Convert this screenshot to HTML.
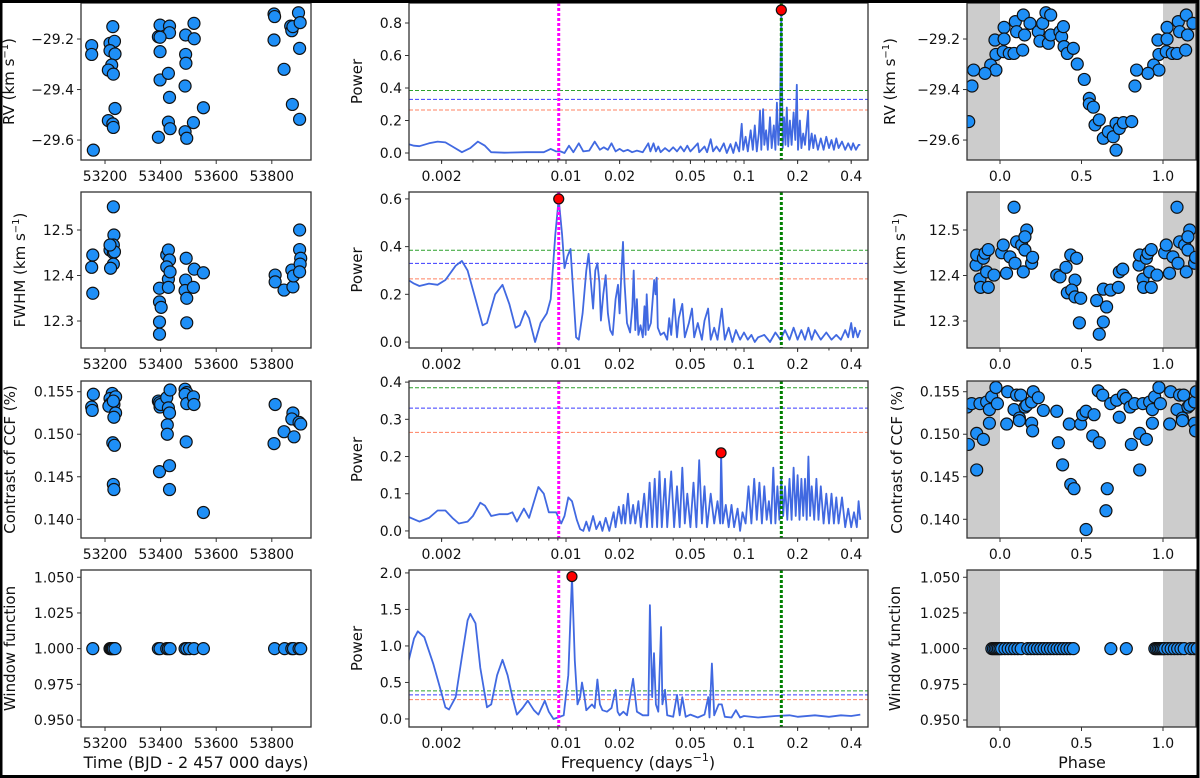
<!DOCTYPE html>
<html><head><meta charset="utf-8">
<style>
html,body{margin:0;padding:0;background:#fff;}
svg{display:block;font-family:"DejaVu Sans","Liberation Sans",sans-serif;}
</style></head>
<body>
<svg id="chart" width="1200" height="778" viewBox="0 0 1200 778" xmlns="http://www.w3.org/2000/svg"></svg>
<script>
// ---------- DATA ----------
const rvTime=[53152,53152,53158,53228,53218,53234,53218,53236,53224,53212,53230,53236,53212,53228,53230,53398,53432,53432,53392,53398,53398,53398,53428,53432,53428,53434,53392,53490,53520,53521,53490,53491,53488,53488,53494,53518,53554,53808,53810,53808,53844,53868,53872,53876,53874,53896,53902,53900,53900];
const rvVal=[-29.226,-29.261,-29.64,-29.151,-29.217,-29.209,-29.246,-29.259,-29.303,-29.323,-29.339,-29.475,-29.523,-29.536,-29.55,-29.145,-29.149,-29.175,-29.191,-29.193,-29.25,-29.362,-29.336,-29.431,-29.529,-29.555,-29.589,-29.184,-29.138,-29.199,-29.261,-29.296,-29.386,-29.567,-29.593,-29.531,-29.472,-29.101,-29.111,-29.204,-29.32,-29.149,-29.167,-29.151,-29.459,-29.096,-29.135,-29.237,-29.518];
const rvPhase=[0.969,0.975,0.943,0.975,0.908,0.025,0.025,0.02,0.057,0.086,0.094,0.102,0.139,0.143,0.151,0.184,0.235,0.245,0.262,0.282,0.297,0.311,0.311,0.368,0.378,0.389,0.393,0.413,0.45,0.474,0.517,0.548,0.548,0.573,0.583,0.609,0.634,0.665,0.695,0.712,0.712,0.732,0.757,0.808,0.828,0.838];
const rvPhaseVal=[-29.204,-29.261,-29.303,-29.323,-29.336,-29.154,-29.2,-29.25,-29.257,-29.257,-29.131,-29.171,-29.244,-29.105,-29.184,-29.138,-29.171,-29.208,-29.138,-29.096,-29.217,-29.184,-29.105,-29.171,-29.191,-29.151,-29.23,-29.257,-29.237,-29.299,-29.36,-29.435,-29.457,-29.47,-29.54,-29.52,-29.593,-29.567,-29.587,-29.534,-29.64,-29.554,-29.531,-29.527,-29.386,-29.323];

const fwTime=[53156,53152,53156,53230,53232,53230,53218,53230,53234,53218,53230,53220,53396,53396,53402,53396,53396,53422,53428,53432,53422,53428,53428,53434,53492,53490,53488,53494,53494,53518,53521,53554,53812,53812,53844,53872,53876,53878,53900,53900,53904,53902,53900];
const fwVal=[12.445,12.418,12.361,12.551,12.489,12.467,12.456,12.45,12.452,12.467,12.425,12.416,12.372,12.342,12.33,12.298,12.271,12.445,12.456,12.434,12.419,12.392,12.374,12.408,12.438,12.39,12.367,12.35,12.296,12.374,12.414,12.406,12.401,12.386,12.368,12.412,12.375,12.399,12.5,12.457,12.438,12.425,12.408];
const fwPhase=[0.086,0.01,0.02,0.04,0.061,0.092,0.102,0.133,0.153,0.143,0.164,0.153,0.194,0.2,0.348,0.368,0.405,0.413,0.434,0.46,0.47,0.44,0.46,0.495,0.487,0.593,0.609,0.634,0.634,0.654,0.679,0.726,0.732,0.753,0.853,0.857,0.877,0.881,0.898,0.908,0.928,0.918,0.928,0.963];
const fwPhaseVal=[12.55,12.45,12.467,12.405,12.441,12.427,12.474,12.467,12.456,12.408,12.5,12.485,12.427,12.44,12.401,12.397,12.418,12.362,12.445,12.39,12.438,12.368,12.353,12.35,12.296,12.345,12.271,12.298,12.37,12.331,12.368,12.374,12.408,12.414,12.423,12.445,12.392,12.374,12.438,12.449,12.457,12.408,12.374,12.401];

const ctTime=[53158,53152,53154,53226,53218,53238,53220,53232,53214,53230,53238,53232,53228,53234,53230,53232,53392,53398,53396,53400,53422,53428,53434,53432,53424,53424,53396,53432,53432,53488,53494,53488,53494,53518,53520,53492,53554,53812,53808,53844,53876,53872,53880,53898,53904];
const ctVal=[0.1547,0.1532,0.1528,0.1548,0.1542,0.1544,0.1536,0.1535,0.1533,0.1539,0.1525,0.152,0.149,0.1487,0.1441,0.1435,0.1539,0.1532,0.1537,0.1535,0.1543,0.1531,0.1552,0.1525,0.1511,0.15,0.1456,0.1463,0.1435,0.1553,0.1549,0.1547,0.1536,0.1544,0.1535,0.1491,0.1408,0.1535,0.1489,0.1503,0.1525,0.1518,0.1497,0.1514,0.1512];
const ctPhase=[0.047,0.041,0.086,0.102,0.127,0.119,0.119,0.153,0.164,0.194,0.204,0.194,0.2,0.235,0.266,0.348,0.358,0.384,0.425,0.434,0.454,0.495,0.507,0.528,0.528,0.577,0.569,0.609,0.603,0.63,0.658,0.65,0.679,0.716,0.732,0.757,0.773,0.798,0.806,0.826,0.857,0.857,0.877,0.898,0.918,0.935,0.935,0.949,0.975,0.984];
const ctPhaseVal=[0.155,0.1512,0.1529,0.1546,0.1546,0.1519,0.1516,0.1532,0.1534,0.1538,0.155,0.1513,0.1504,0.1543,0.1528,0.1527,0.149,0.1464,0.1512,0.1441,0.1436,0.1512,0.1523,0.1527,0.1388,0.1523,0.1498,0.149,0.1551,0.1546,0.1436,0.141,0.1536,0.154,0.152,0.1546,0.1542,0.1532,0.1488,0.1536,0.1501,0.1458,0.1536,0.1494,0.1538,0.1529,0.1513,0.1544,0.1555,0.1536];

const wfTime=[53156,53218,53222,53226,53230,53236,53392,53398,53422,53428,53434,53488,53494,53504,53520,53554,53810,53846,53872,53878,53898,53904];
const wfVal=[1,1,1,1,1,1,1,1,1,1,1,1,1,1,1,1,1,1,1,1,1,1];
const wfPhase=[0.95,0.96,0.97,0.98,0.99,0.0,0.01,0.03,0.05,0.07,0.09,0.11,0.13,0.17,0.19,0.21,0.23,0.25,0.27,0.29,0.31,0.33,0.35,0.37,0.39,0.41,0.43,0.45,0.68,0.775];
const wfPhaseVal=wfPhase.map(()=>1);

const p1Freq=[0.0013,0.0014,0.0015,0.0017,0.0019,0.0021,0.0023,0.0026,0.0029,0.0032,0.0035,0.0038,0.0045,0.006,0.0075,0.0082,0.0088,0.0093,0.0098,0.0104,0.011,0.0118,0.0125,0.0135,0.0145,0.0155,0.0163,0.0172,0.018,0.019,0.02,0.021,0.0222,0.0235,0.025,0.027,0.029,0.0298,0.031,0.032,0.033,0.034,0.036,0.038,0.04,0.042,0.044,0.046,0.048,0.05,0.052,0.055,0.056,0.06,0.062,0.065,0.067,0.07,0.073,0.077,0.08,0.084,0.087,0.09,0.094,0.097,0.099,0.102,0.105,0.109,0.112,0.115,0.118,0.121,0.123,0.125,0.128,0.13,0.133,0.136,0.14,0.143,0.147,0.15,0.153,0.156,0.159,0.162,0.165,0.168,0.171,0.174,0.177,0.181,0.185,0.19,0.194,0.198,0.201,0.206,0.21,0.215,0.22,0.229,0.232,0.24,0.245,0.25,0.26,0.27,0.28,0.29,0.3,0.31,0.32,0.33,0.34,0.355,0.37,0.385,0.4,0.41,0.425,0.44,0.45];
const p1Power=[0.055,0.045,0.042,0.06,0.07,0.065,0.04,0.005,0.03,0.07,0.045,0.005,0.002,0.005,0.005,0.025,0.01,0.01,0.0,0.045,0.005,0.06,0.01,0.015,0.07,0.02,0.035,0.02,0.06,0.01,0.025,0.01,0.02,0.005,0.015,0.005,0.06,0.01,0.06,0.01,0.04,0.005,0.03,0.01,0.035,0.01,0.04,0.01,0.045,0.01,0.03,0.06,0.005,0.04,0.005,0.085,0.01,0.04,0.01,0.06,0.0,0.055,0.0,0.065,0.01,0.18,0.02,0.1,0.01,0.14,0.02,0.17,0.01,0.12,0.26,0.02,0.27,0.05,0.14,0.02,0.22,0.03,0.17,0.02,0.31,0.05,0.2,0.88,0.03,0.22,0.05,0.28,0.04,0.2,0.05,0.25,0.08,0.42,0.02,0.2,0.03,0.12,0.05,0.26,0.02,0.12,0.03,0.11,0.02,0.09,0.02,0.1,0.03,0.08,0.02,0.09,0.03,0.07,0.02,0.06,0.02,0.06,0.02,0.05,0.05];
const p2Freq=[0.0013,0.0014,0.0015,0.0017,0.0019,0.0021,0.0024,0.0026,0.0028,0.0031,0.0034,0.0036,0.004,0.0044,0.0048,0.0052,0.0055,0.0059,0.0062,0.0067,0.0072,0.0078,0.0082,0.0087,0.0091,0.0095,0.0098,0.0102,0.0106,0.011,0.0114,0.0118,0.0124,0.013,0.0134,0.0138,0.0142,0.0146,0.015,0.0154,0.0157,0.0162,0.0167,0.0172,0.0177,0.0183,0.019,0.0196,0.02,0.0205,0.0209,0.0213,0.022,0.0229,0.0236,0.024,0.0245,0.025,0.0255,0.0262,0.027,0.0276,0.028,0.0284,0.029,0.03,0.0313,0.0318,0.0323,0.0328,0.034,0.0355,0.037,0.038,0.039,0.0405,0.042,0.043,0.045,0.0465,0.049,0.051,0.0525,0.055,0.058,0.06,0.0628,0.065,0.068,0.071,0.075,0.078,0.082,0.086,0.09,0.095,0.1,0.105,0.11,0.115,0.12,0.13,0.14,0.15,0.16,0.17,0.18,0.19,0.2,0.21,0.22,0.23,0.24,0.25,0.27,0.29,0.31,0.33,0.35,0.37,0.385,0.4,0.41,0.42,0.435,0.45];
const p2Power=[0.26,0.245,0.235,0.245,0.24,0.26,0.32,0.34,0.3,0.18,0.07,0.08,0.2,0.24,0.16,0.06,0.07,0.13,0.1,0.0,0.08,0.12,0.18,0.45,0.6,0.45,0.31,0.36,0.39,0.2,0.02,0.01,0.12,0.3,0.37,0.25,0.14,0.3,0.33,0.25,0.09,0.2,0.28,0.12,0.05,0.03,0.18,0.24,0.12,0.3,0.42,0.25,0.08,0.04,0.15,0.3,0.05,0.18,0.03,0.07,0.02,0.15,0.03,0.2,0.05,0.08,0.26,0.2,0.27,0.06,0.03,0.04,0.01,0.1,0.03,0.18,0.02,0.1,0.16,0.02,0.08,0.14,0.02,0.08,0.01,0.09,0.14,0.01,0.06,0.01,0.14,0.01,0.06,0.0,0.05,0.01,0.04,0.01,0.03,0.0,0.02,0.03,0.0,0.04,0.01,0.05,0.01,0.06,0.01,0.05,0.01,0.06,0.01,0.05,0.01,0.04,0.01,0.03,0.01,0.05,0.02,0.08,0.02,0.06,0.02,0.05];
const p3Freq=[0.0013,0.0015,0.0017,0.0019,0.0021,0.0023,0.0025,0.0028,0.003,0.0033,0.0035,0.0038,0.0042,0.0047,0.005,0.0053,0.0058,0.0062,0.007,0.0075,0.008,0.0088,0.0094,0.0098,0.0103,0.0108,0.0115,0.012,0.0125,0.013,0.0135,0.0142,0.0148,0.0155,0.016,0.0167,0.0175,0.0185,0.019,0.0198,0.0205,0.021,0.0215,0.0223,0.023,0.0238,0.0245,0.0255,0.0263,0.0275,0.0285,0.0295,0.0305,0.0315,0.0325,0.0335,0.0345,0.036,0.037,0.039,0.0405,0.042,0.0435,0.045,0.0465,0.048,0.05,0.052,0.054,0.056,0.058,0.06,0.062,0.065,0.068,0.071,0.0735,0.0743,0.076,0.079,0.082,0.085,0.088,0.092,0.095,0.098,0.102,0.106,0.11,0.114,0.118,0.122,0.126,0.13,0.134,0.138,0.142,0.146,0.15,0.154,0.158,0.162,0.166,0.17,0.175,0.18,0.185,0.19,0.195,0.2,0.205,0.21,0.215,0.22,0.225,0.23,0.235,0.24,0.248,0.255,0.262,0.27,0.28,0.29,0.3,0.31,0.32,0.33,0.34,0.355,0.37,0.385,0.4,0.415,0.43,0.44,0.45];
const p3Power=[0.038,0.025,0.035,0.055,0.055,0.035,0.02,0.025,0.04,0.076,0.068,0.04,0.045,0.045,0.05,0.025,0.06,0.035,0.118,0.1,0.05,0.05,0.02,0.04,0.09,0.08,0.03,0.005,0.0,0.025,0.0,0.04,0.005,0.025,0.0,0.035,0.0,0.05,0.01,0.065,0.02,0.07,0.02,0.1,0.02,0.07,0.02,0.08,0.01,0.1,0.01,0.13,0.01,0.14,0.01,0.16,0.01,0.14,0.01,0.16,0.01,0.12,0.01,0.17,0.02,0.1,0.01,0.13,0.01,0.19,0.02,0.12,0.01,0.1,0.02,0.08,0.02,0.21,0.02,0.07,0.01,0.07,0.01,0.06,0.0,0.05,0.02,0.12,0.02,0.14,0.03,0.13,0.02,0.12,0.03,0.08,0.02,0.17,0.02,0.12,0.03,0.14,0.04,0.12,0.03,0.14,0.03,0.17,0.04,0.15,0.03,0.14,0.04,0.14,0.03,0.2,0.04,0.12,0.03,0.14,0.03,0.12,0.02,0.1,0.02,0.1,0.02,0.09,0.02,0.09,0.01,0.06,0.01,0.05,0.01,0.08,0.03];
const p4Freq=[0.0013,0.0014,0.00147,0.0016,0.0018,0.002,0.0021,0.0022,0.0024,0.0026,0.0028,0.0029,0.0031,0.0033,0.0036,0.0038,0.0041,0.0044,0.0047,0.005,0.0053,0.0057,0.0061,0.0066,0.007,0.0076,0.008,0.0085,0.009,0.0097,0.0103,0.0108,0.0112,0.0116,0.012,0.0123,0.0127,0.013,0.014,0.0145,0.015,0.0155,0.016,0.017,0.018,0.019,0.0195,0.02,0.021,0.022,0.0238,0.025,0.027,0.029,0.0296,0.0305,0.0312,0.032,0.033,0.0342,0.0348,0.036,0.037,0.04,0.042,0.0435,0.045,0.047,0.05,0.055,0.06,0.063,0.064,0.066,0.068,0.072,0.075,0.078,0.085,0.09,0.095,0.1,0.12,0.15,0.18,0.2,0.25,0.3,0.35,0.4,0.45];
const p4Power=[0.78,1.1,1.2,1.12,0.75,0.35,0.16,0.13,0.3,0.85,1.35,1.44,1.31,0.7,0.16,0.2,0.6,0.81,0.6,0.3,0.06,0.15,0.25,0.12,0.06,0.25,0.1,0.0,0.02,0.05,0.6,1.95,0.8,0.2,0.3,0.5,0.3,0.12,0.2,0.15,0.54,0.2,0.12,0.1,0.15,0.4,0.1,0.05,0.1,0.05,0.55,0.1,0.05,0.05,1.56,0.3,0.9,0.2,0.1,1.26,0.2,0.4,0.05,0.03,0.33,0.05,0.3,0.03,0.06,0.02,0.06,0.3,0.02,0.76,0.05,0.2,0.2,0.03,0.02,0.12,0.02,0.04,0.02,0.04,0.05,0.03,0.05,0.03,0.05,0.04,0.06];
const fapLevels=[0.385,0.33,0.265];
const fapColors=['#2ca02c','#3b3bff','#ff8060'];
const peakFreq=[0.162,0.0091,0.0743,0.0108];
const peakPower=[0.88,0.6,0.21,1.95];
const lineMagenta=0.0091, lineGreen=0.162;

// ---------- HELPERS ----------
const NS='http://www.w3.org/2000/svg';
const svg=document.getElementById('chart');
function mk(tag,attrs,parent){const e=document.createElementNS(NS,tag);for(const k in attrs)e.setAttribute(k,attrs[k]);(parent||svg).appendChild(e);return e;}
let clipId=0;
function panel(name,x0,x1,y0,y1,xd,yd,xlog){
  const g=mk('g',{});
  
  
  const lx=v=>xlog?Math.log10(v):v;
  const sx=v=>x0+(lx(v)-lx(xd[0]))/(lx(xd[1])-lx(xd[0]))*(x1-x0);
  const sy=v=>y1-(v-yd[0])/(yd[1]-yd[0])*(y1-y0);
  const id='c'+(clipId++);
  const cp=mk('clipPath',{id:id},g);mk('rect',{x:x0,y:y0,width:x1-x0,height:y1-y0},cp);
  const inner=mk('g',{'clip-path':'url(#'+id+')'},g);
  return {g,inner,sx,sy,x0,x1,y0,y1};
}
function frame(p){
  const r=mk('rect',{x:p.x0,y:p.y0,width:p.x1-p.x0,height:p.y1-p.y0,fill:'none',stroke:'#333',"stroke-width":1.3},p.g);
  
  
}
function yticks(p,vals,labels){
  vals.forEach((v,i)=>{const y=p.sy(v);
    mk('line',{x1:p.x0-4,x2:p.x0,y1:y,y2:y,stroke:'#333'},p.g);
    const t=mk('text',{x:p.x0-7,y:y+5,'text-anchor':'end','font-size':14,fill:'#111'},p.g);t.textContent=labels[i];
    
    });
}
function xticks(p,vals,labels,minor){
  (minor||[]).forEach(v=>{const x=p.sx(v);mk('line',{x1:x,x2:x,y1:p.y1,y2:p.y1+2.5,stroke:'#333'},p.g);});
  vals.forEach((v,i)=>{const x=p.sx(v);
    mk('line',{x1:x,x2:x,y1:p.y1,y2:p.y1+4,stroke:'#333'},p.g);
    const t=mk('text',{x:x,y:p.y1+21,'text-anchor':'middle','font-size':14,fill:'#111'},p.g);t.textContent=labels[i];
    
    });
}
function ytitle(x,y,txt,sup){
  const t=mk('text',{transform:`translate(${x},${y}) rotate(-90)`,'text-anchor':'middle','font-size':15,fill:'#111'});
  
  
  if(sup){t.appendChild(document.createTextNode(txt));const s=mk('tspan',{dy:-6,'font-size':10},t);s.textContent='−1';const e=mk('tspan',{dy:6},t);e.textContent=')';}
  else t.textContent=txt;
}
function dots(p,xs,ys,err,phase){
  xs.forEach((xv,i)=>{
    const shifts=phase?[-1,0,1]:[0];
    shifts.forEach(s=>{const v=xv+s; if(phase&&(v<-0.21||v>1.21))return;
      const cx=p.sx(v),cy=p.sy(ys[i]);
      if(err){mk('line',{x1:cx,x2:cx,y1:p.sy(ys[i]+err),y2:p.sy(ys[i]-err),stroke:'#111','stroke-width':1.3},p.inner);}
      const c=mk('circle',{cx:cx,cy:cy,r:6,fill:'#1e8ff7',stroke:'#111','stroke-width':1.2},p.inner);
      
      });
  });
}
function shade(p){
  mk('rect',{x:p.sx(-0.21),y:p.y0,width:p.sx(0)-p.sx(-0.21),height:p.y1-p.y0,fill:'#cccccc'},p.inner);
  mk('rect',{x:p.sx(1),y:p.y0,width:p.sx(1.21)-p.sx(1),height:p.y1-p.y0,fill:'#cccccc'},p.inner);
}

// ---------- LAYOUT ----------
const rows=[[3,160],[192,348],[381,538],[570,727]];
const tD=[53113.6,53941];
const phD=[-0.2025,1.2025];
const fD=[0.001312,0.4971];
const yDoms=[[-29.679,-29.0574],[12.2407,12.5835],[0.1378,0.15626],[0.9451,1.0551]];
const pDoms=[[-0.043,0.923],[-0.025,0.629],[-0.019,0.403],[-0.11,2.04]];
const yT=[[[-29.6,-29.4,-29.2],['−29.6','−29.4','−29.2']],[[12.3,12.4,12.5],['12.3','12.4','12.5']],[[0.14,0.145,0.15,0.155],['0.140','0.145','0.150','0.155']],[[0.95,0.975,1.0,1.025,1.05],['0.950','0.975','1.000','1.025','1.050']]];
const pT=[[[0,0.2,0.4,0.6,0.8],['0.0','0.2','0.4','0.6','0.8']],[[0,0.2,0.4,0.6],['0.0','0.2','0.4','0.6']],[[0,0.1,0.2,0.3,0.4],['0.0','0.1','0.2','0.3','0.4']],[[0,0.5,1,1.5,2],['0.0','0.5','1.0','1.5','2.0']]];
const leftData=[[rvTime,rvVal,0.012],[fwTime,fwVal,0.012],[ctTime,ctVal,0],[wfTime,wfVal,0]];
const rightData=[[rvPhase,rvPhaseVal,0.012],[fwPhase,fwPhaseVal,0.012],[ctPhase,ctPhaseVal,0],[wfPhase,wfPhaseVal,0]];
const pgF=[p1Freq,p2Freq,p3Freq,p4Freq], pgP=[p1Power,p2Power,p3Power,p4Power];
const titles=[['RV (km s',true],['FWHM (km s',true],['Contrast of CCF (%)',false],['Window function',false]];
const leftTitleX=[14,25,15,15], rightTitleX=[895,905,902,900];
const minorF=[];[0.001,0.01,0.1].forEach(d=>{for(let m=2;m<10;m++){const v=d*m;if(v>fD[0]&&v<fD[1])minorF.push(v);}});

rows.forEach((r,i)=>{
  // left time-series panel
  const L=panel('time-series-panel-'+(i+1),81,311,r[0],r[1],tD,yDoms[i],false);
  dots(L,leftData[i][0],leftData[i][1],leftData[i][2],false);
  frame(L);yticks(L,yT[i][0],yT[i][1]);
  xticks(L,[53200,53400,53600,53800],['53200','53400','53600','53800']);
  ytitle(leftTitleX[i],(r[0]+r[1])/2,titles[i][0],titles[i][1]);

  // middle periodogram
  const M=panel('periodogram-panel-'+(i+1),409,868,r[0],r[1],fD,pDoms[i],true);
  fapLevels.forEach((v,k)=>{const l=mk('line',{x1:409,x2:868,y1:M.sy(v),y2:M.sy(v),stroke:fapColors[k],'stroke-width':1,'stroke-dasharray':'4,2'},M.inner);
    
    });
  const pts=pgF[i].map((f,k)=>M.sx(f).toFixed(1)+','+M.sy(pgP[i][k]).toFixed(1)).join(' ');
  const pl=mk('polyline',{points:pts,fill:'none',stroke:'#4169e1','stroke-width':1.8,'stroke-linejoin':'round'},M.inner);
  
  
  const mg=mk('line',{x1:M.sx(lineMagenta),x2:M.sx(lineMagenta),y1:r[0],y2:r[1],stroke:'#ff00ff','stroke-width':3,'stroke-dasharray':'3,2'},M.inner);
  
  
  const gr=mk('line',{x1:M.sx(lineGreen),x2:M.sx(lineGreen),y1:r[0],y2:r[1],stroke:'#008000','stroke-width':3,'stroke-dasharray':'3,2'},M.inner);
  
  
  const pk=mk('circle',{cx:M.sx(peakFreq[i]),cy:M.sy(peakPower[i]),r:5,fill:'#ff0000',stroke:'#111','stroke-width':1.2},M.g);
  
  
  frame(M);yticks(M,pT[i][0],pT[i][1]);
  xticks(M,[0.002,0.01,0.02,0.05,0.1,0.2,0.4],['0.002','0.01','0.02','0.05','0.1','0.2','0.4'],minorF);
  ytitle(362,(r[0]+r[1])/2,'Power',false);

  // right phase-folded panel
  const R=panel('phase-panel-'+(i+1),967,1196,r[0],r[1],phD,yDoms[i],false);
  shade(R);
  dots(R,rightData[i][0],rightData[i][1],rightData[i][2],true);
  frame(R);yticks(R,yT[i][0],yT[i][1]);
  xticks(R,[0,0.5,1],['0.0','0.5','1.0']);
  ytitle(rightTitleX[i],(r[0]+r[1])/2,titles[i][0],titles[i][1]);
});
// x-axis titles
const xt1=mk('text',{x:196,y:768,'text-anchor':'middle','font-size':16,fill:'#111'});xt1.textContent='Time (BJD - 2 457 000 days)';


const xt2=mk('text',{x:638,y:768,'text-anchor':'middle','font-size':16,fill:'#111'});


xt2.appendChild(document.createTextNode('Frequency (days'));
const s2=mk('tspan',{dy:-7,'font-size':11},xt2);s2.textContent='−1';const s3=mk('tspan',{dy:7},xt2);s3.textContent=')';
const xt3=mk('text',{x:1082,y:768,'text-anchor':'middle','font-size':16,fill:'#111'});xt3.textContent='Phase';


// outer border
const bd=mk('rect',{x:1,y:1.5,width:1197,height:775,fill:'none',stroke:'#000','stroke-width':3});


</script>
</body></html>
